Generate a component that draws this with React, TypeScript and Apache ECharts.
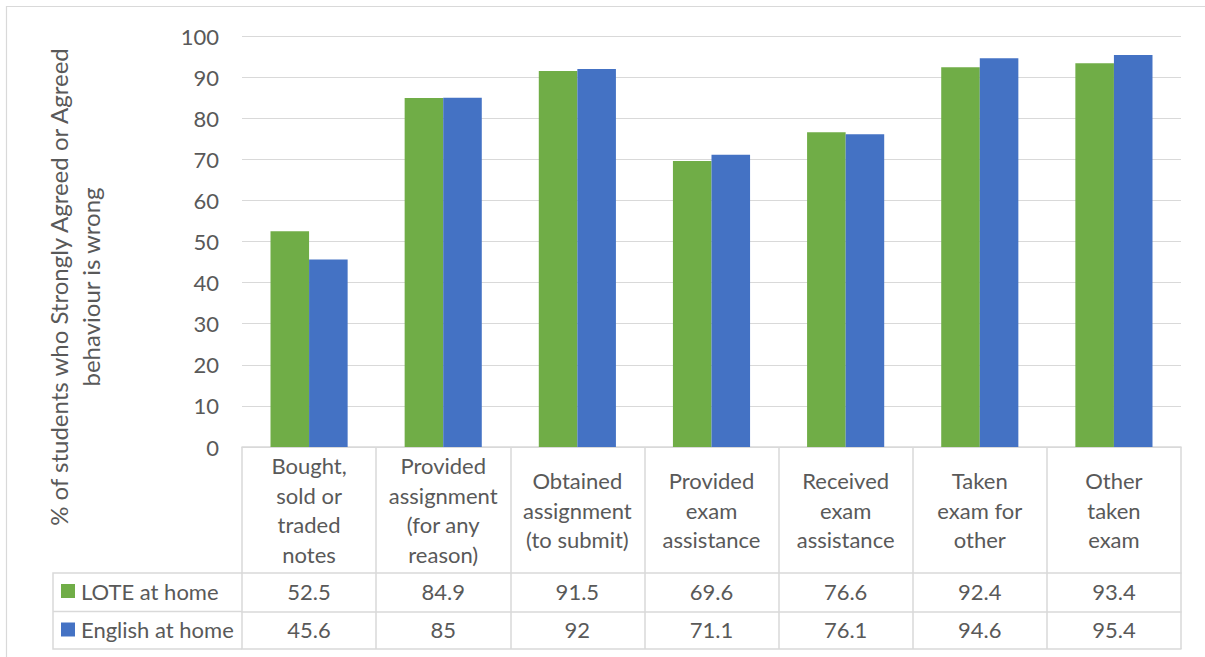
import React, { useEffect, useRef } from "react";
import * as echarts from "echarts";

// Behaviours asked about in the survey (x-axis categories / table header)
const categories = [
  "Bought,\nsold or\ntraded\nnotes",
  "Provided\nassignment\n(for any\nreason)",
  "Obtained\nassignment\n(to submit)",
  "Provided\nexam\nassistance",
  "Received\nexam\nassistance",
  "Taken\nexam for\nother",
  "Other\ntaken\nexam",
];

// % who strongly agreed or agreed the behaviour is wrong
const loteAtHome = [52.5, 84.9, 91.5, 69.6, 76.6, 92.4, 93.4];
const englishAtHome = [45.6, 85, 92, 71.1, 76.1, 94.6, 95.4];

const seriesNames = ["LOTE at home", "English at home"];
const seriesColors = ["#70AD47", "#4472C4"];

const yMin = 0;
const yMax = 100;
const yInterval = 10;

const yAxisTitle = "% of students who Strongly Agreed or Agreed\nbehaviour is wrong";

const FONT = "Lato";
const TEXT = "#595959";
const LINE = "#d9d9d9";

export default function App() {
  const ref = useRef<HTMLDivElement>(null);

  useEffect(() => {
    if (!ref.current) return;
    const chart = echarts.init(ref.current, undefined, { renderer: "svg" });

    const gridLeft = 242;
    const gridRight = 24;
    const gridTop = 36;
    const gridBottom = 210;
    const axisY = 657 - gridBottom; // y of the table's top line
    const row1 = axisY + 126;
    const row2 = axisY + 164.5;
    const tableBottom = axisY + 202;

    const rowAxis = (values: number[], offset: number, margin: number, showLabel: boolean) => ({
      type: "category" as const,
      position: "bottom" as const,
      offset,
      data: values.map((v) => String(v)),
      axisLine: { show: true, lineStyle: { color: LINE, width: 1.5 } },
      axisTick: { show: false },
      axisLabel: {
        show: showLabel,
        interval: 0,
        margin,
        verticalAlign: "middle" as const,
        color: TEXT,
        fontFamily: FONT,
        fontSize: 22,
      },
      splitLine: { show: false },
    });

    chart.setOption({
      animation: false,
      backgroundColor: "#ffffff",
      textStyle: { fontFamily: FONT },
      grid: { left: gridLeft, right: gridRight, top: gridTop, bottom: gridBottom, containLabel: false },
      legend: {
        orient: "vertical",
        left: 61,
        top: row1 + 7,
        padding: 0,
        itemWidth: 14,
        itemHeight: 14,
        itemGap: 16.5,
        icon: "rect",
        selectedMode: false,
        textStyle: { color: TEXT, fontFamily: FONT, fontSize: 22, padding: [0, 0, 0, 1] },
        data: seriesNames,
      },
      xAxis: [
        {
          type: "category",
          position: "bottom",
          data: categories,
          axisLine: { show: true, lineStyle: { color: LINE, width: 1.5 } },
          axisTick: {
            show: true,
            interval: 0,
            inside: false,
            length: tableBottom - axisY,
            lineStyle: { color: LINE, width: 1.5 },
          },
          axisLabel: {
            interval: 0,
            margin: 63,
            verticalAlign: "middle",
            align: "center",
            color: TEXT,
            fontFamily: FONT,
            fontSize: 22,
            lineHeight: 29.5,
          },
          splitLine: { show: false },
        },
        rowAxis(loteAtHome, row1 - axisY, 18, true),
        rowAxis(englishAtHome, row2 - axisY, 17.5, true),
        rowAxis(englishAtHome, tableBottom - axisY, 10, false),
      ],
      yAxis: {
        type: "value",
        min: yMin,
        max: yMax,
        interval: yInterval,
        axisLine: { show: false },
        axisTick: { show: false },
        axisLabel: { margin: 23, color: TEXT, fontFamily: FONT, fontSize: 22 },
        splitLine: { lineStyle: { color: LINE, width: 1.2 } },
      },
      series: [
        {
          name: seriesNames[0],
          type: "bar",
          data: loteAtHome,
          barGap: "0%",
          barCategoryGap: "42.5%",
          itemStyle: { color: seriesColors[0] },
        },
        {
          name: seriesNames[1],
          type: "bar",
          data: englishAtHome,
          barGap: "0%",
          barCategoryGap: "42.5%",
          itemStyle: { color: seriesColors[1] },
        },
      ],
      graphic: [
        // chart-area border
        {
          type: "rect",
          shape: { x: 6.5, y: 6.5, width: 1300, height: 800 },
          style: { fill: "none", stroke: LINE, lineWidth: 1.2 },
          silent: true,
          z: 0,
        },
        // legend column of the data table
        {
          type: "polyline",
          shape: {
            points: [
              [gridLeft, row1],
              [53, row1],
              [53, tableBottom],
              [gridLeft, tableBottom],
            ],
          },
          style: { fill: "none", stroke: LINE, lineWidth: 1.5 },
          silent: true,
        },
        {
          type: "line",
          shape: { x1: 53, y1: row2, x2: gridLeft, y2: row2 },
          style: { stroke: LINE, lineWidth: 1.5 },
          silent: true,
        },
        // y-axis title
        {
          type: "text",
          x: 74,
          y: 287,
          rotation: Math.PI / 2,
          style: {
            text: yAxisTitle,
            fill: TEXT,
            fontFamily: FONT,
            fontSize: 24,
            lineHeight: 32,
            align: "center",
            verticalAlign: "middle",
          },
          silent: true,
        },
      ],
    });

    return () => chart.dispose();
  }, []);

  return (
    <div
      ref={ref}
      style={{ position: "absolute", left: 0, top: 0, width: 1205, height: 657, background: "#fff" }}
    />
  );
}
